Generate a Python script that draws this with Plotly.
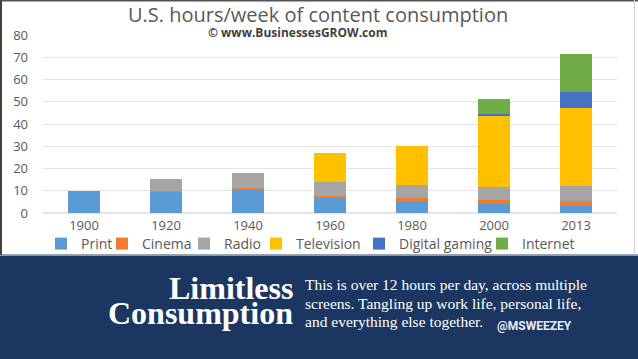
import plotly.graph_objects as go

years = ["1900", "1920", "1940", "1960", "1980", "2000", "2013"]
print_vals = [10.0, 9.7, 10.5, 7.0, 4.8, 3.9, 3.3]
cinema_vals = [0.0, 0.3, 0.9, 0.6, 2.0, 2.1, 2.1]
radio_vals = [0.0, 5.5, 6.5, 6.2, 6.0, 5.9, 6.9]
tv_vals = [0.0, 0.0, 0.0, 13.1, 17.1, 31.8, 35.0]
gaming_vals = [0.0, 0.0, 0.0, 0.0, 0.0, 0.6, 6.9]
internet_vals = [0.0, 0.0, 0.0, 0.0, 0.0, 7.1, 17.2]
y_ticks = [0, 10, 20, 30, 40, 50, 60, 70, 80]

series = [
    ("Print", print_vals, "#5B9BD5"),
    ("Cinema", cinema_vals, "#ED7D31"),
    ("Radio", radio_vals, "#A5A5A5"),
    ("Television", tv_vals, "#FFC000"),
    ("Digital gaming", gaming_vals, "#4472C4"),
    ("Internet", internet_vals, "#70AD47"),
]

# plot-area pixel geometry
W, H = 638, 359
L, R, T, B = 43, 21, 35, 146
PW = W - L - R
PH = H - T - B


def px(p):
    return (p - L) / PW


def py(p):
    return (H - B - p) / PH


legend_text_start = [77, 138, 220, 292, 395, 518]
legend_names = ["legend", "legend2", "legend3", "legend4", "legend5", "legend6"]

fig = go.Figure()
for (name, vals, color), lg in zip(series, legend_names):
    fig.add_trace(go.Bar(
        x=years, y=vals, name=name, marker=dict(color=color, line=dict(width=0)),
        legend=lg,
    ))

legend_font = dict(family="Open Sans, DejaVu Sans, sans-serif", size=14, color="#595959")
layout_legends = {}
for lg, ts in zip(legend_names, legend_text_start):
    layout_legends[lg] = dict(
        x=px(ts - 36), y=py(244), xanchor="left", yanchor="middle",
        orientation="h", font=legend_font, bgcolor="rgba(0,0,0,0)",
        borderwidth=0, itemwidth=30,
    )

shapes = [
    # navy band
    dict(type="rect", xref="paper", yref="paper", x0=px(-5), x1=px(W + 5),
         y0=py(H + 5), y1=py(255.5), fillcolor="#1B3761", line=dict(width=0), layer="below"),
    # light separator
    dict(type="line", xref="paper", yref="paper", x0=px(0), x1=px(W),
         y0=py(254.5), y1=py(254.5), line=dict(color="#9AA3AE", width=1)),
    # top frame line
    dict(type="line", xref="paper", yref="paper", x0=px(0), x1=px(W),
         y0=py(0.5), y1=py(0.5), line=dict(color="#555555", width=2)),
    # left frame line
    dict(type="line", xref="paper", yref="paper", x0=px(1), x1=px(1),
         y0=py(0), y1=py(255), line=dict(color="#444444", width=2)),
    # right frame line
    dict(type="line", xref="paper", yref="paper", x0=px(634.5), x1=px(634.5),
         y0=py(0), y1=py(255), line=dict(color="#D0D0D0", width=1)),
]

serif = "Liberation Serif, DejaVu Serif, serif"
body_lines = [
    "This is over 12 hours per day, across multiple",
    "screens. Tangling up work life, personal life,",
    "and everything else together.",
]
body_y = [284, 303, 321]

annotations = [
    dict(text="U.S. hours/week of content consumption", x=px(318), y=py(14),
         xref="paper", yref="paper", showarrow=False, xanchor="center", yanchor="middle",
         font=dict(family="Open Sans, DejaVu Sans, sans-serif", size=20, color="#595959")),
    dict(text="<b>© www.BusinessesGROW.com</b>", x=px(297), y=py(32.5),
         xref="paper", yref="paper", showarrow=False, xanchor="center", yanchor="middle",
         font=dict(family="Open Sans, DejaVu Sans, sans-serif", size=12, color="#404040")),
    dict(text="<b>Limitless</b>", x=px(295), y=py(300), xref="paper", yref="paper",
         showarrow=False, xanchor="right", yanchor="bottom", yshift=-8,
         font=dict(family=serif, size=32, color="#FFFFFF")),
    dict(text="<b>Consumption</b>", x=px(295), y=py(325), xref="paper", yref="paper",
         showarrow=False, xanchor="right", yanchor="bottom", yshift=-8,
         font=dict(family=serif, size=32, color="#FFFFFF")),
    dict(text="<b>@MSWEEZEY</b>", x=px(495), y=py(326), xref="paper", yref="paper",
         showarrow=False, xanchor="left", yanchor="middle",
         font=dict(family="Roboto, sans-serif", size=12, color="#E8ECF2")),
]
for line, yy in zip(body_lines, body_y):
    annotations.append(dict(
        text=line, x=px(303), y=py(yy), xref="paper", yref="paper", showarrow=False,
        xanchor="left", yanchor="middle", align="left",
        font=dict(family=serif, size=15.5, color="#FFFFFF")))

fig.update_layout(
    width=W, height=H,
    margin=dict(l=L, r=R, t=T, b=B, pad=0),
    paper_bgcolor="#FFFFFF", plot_bgcolor="#FFFFFF",
    barmode="stack", bargap=0.6,
    showlegend=True,
    shapes=shapes, annotations=annotations,
    xaxis=dict(
        type="category", showgrid=False, zeroline=False, showline=False,
        ticks="", ticklabelstandoff=3,
        tickfont=dict(family="Open Sans, DejaVu Sans, sans-serif", size=13, color="#595959"),
    ),
    yaxis=dict(
        range=[0, 80], tickvals=y_ticks, showgrid=True, gridcolor="#E4E4E4", gridwidth=1,
        zeroline=True, zerolinecolor="#E4E4E4", showline=False, ticks="",
        ticklabelstandoff=14,
        tickfont=dict(family="Open Sans, DejaVu Sans, sans-serif", size=13, color="#595959"),
    ),
    **layout_legends,
)

fig.write_html(
    "out.html",
    config={"displayModeBar": False},
    post_script="document.body.style.margin='0';document.body.style.overflow='hidden';",
)
